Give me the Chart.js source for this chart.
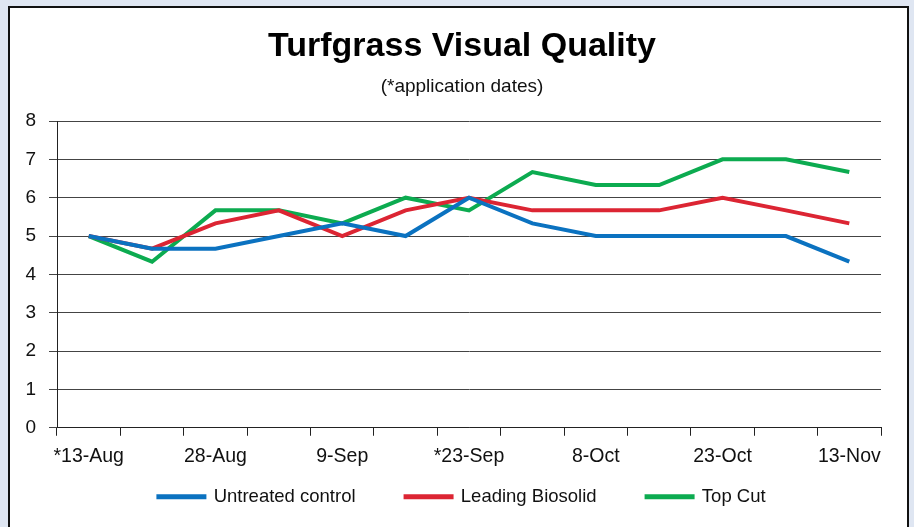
<!DOCTYPE html>
<html>
<head>
<meta charset="utf-8">
<script src="https://cdn.jsdelivr.net/npm/chart.js@4.4.1/dist/chart.umd.min.js"></script>
<style>
  html, body { margin: 0; padding: 0; }
  body { width: 914px; height: 527px; background: #dfe6f2; overflow: hidden; position: relative; }
  #panel { position: absolute; left: 8px; top: 6px; width: 897px; height: 540px; border: 2px solid #111; background: #fff; }
  #wrap { position: absolute; left: 0; top: 0; width: 914px; height: 516px; }
</style>
</head>
<body>
<div id="panel"></div>
<div id="wrap"><canvas id="chart" width="914" height="516"></canvas></div>
<script>
const dates = ['*13-Aug', '', '28-Aug', '', '9-Sep', '', '*23-Sep', '', '8-Oct', '', '23-Oct', '', '13-Nov'];
const untreated = [5, 4.67, 4.67, 5, 5.33, 5, 6, 5.33, 5, 5, 5, 5, 4.33];
const biosolid = [5, 4.67, 5.33, 5.67, 5, 5.67, 6, 5.67, 5.67, 5.67, 6, 5.67, 5.33];
const topCut = [5, 4.33, 5.67, 5.67, 5.33, 6, 5.67, 6.67, 6.33, 6.33, 7, 7, 6.67];

const font = "'Liberation Sans', Arial, sans-serif";

function series(label, data, color) {
  return {
    label: label,
    data: data,
    borderColor: color,
    backgroundColor: color,
    borderWidth: 4,
    pointRadius: 0,
    tension: 0,
    fill: false
  };
}

// let the axis labels draw outside their (shrunk) scale boxes
const unclipLabels = {
  id: 'unclipLabels',
  afterLayout(chart) {
    chart.scales.y.left = 0;
    chart.scales.x.bottom = chart.height;
  }
};

new Chart(document.getElementById('chart'), {
  type: 'line',
  data: {
    labels: dates,
    datasets: [
      series('Untreated control', untreated, '#0b72c0'),
      series('Leading Biosolid', biosolid, '#dc2533'),
      series('Top Cut', topCut, '#0cab50')
    ]
  },
  plugins: [unclipLabels],
  options: {
    responsive: false,
    animation: false,
    layout: { padding: { left: 43, right: 33, top: 0, bottom: 0 } },
    plugins: {
      title: {
        display: true,
        text: 'Turfgrass Visual Quality',
        color: '#000',
        font: { family: font, size: 34, weight: 'bold' },
        padding: { top: 26, bottom: 0 }
      },
      subtitle: {
        display: true,
        text: '(*application dates)',
        color: '#111',
        font: { family: font, size: 19 },
        padding: { top: 9, bottom: 22.4 }
      },
      legend: {
        position: 'bottom',
        labels: {
          boxWidth: 46,
          boxHeight: 1,
          padding: 50,
          color: '#111',
          font: { family: font, size: 18.5 }
        }
      },
      tooltip: { enabled: false }
    },
    scales: {
      x: {
        offset: true,
        afterFit: (scale) => { scale.height = 9.75; },
        grid: { offset: true, drawOnChartArea: false, color: '#222', tickLength: 8 },
        border: { color: '#222', width: 1 },
        ticks: {
          autoSkip: false,
          maxRotation: 0,
          padding: 9,
          color: '#111',
          font: { family: font, size: 19.5 }
        }
      },
      y: {
        min: 0,
        max: 8,
        afterFit: (scale) => { scale.width = 14; },
        grid: { color: '#444', tickLength: 8 },
        border: { color: '#222', width: 1 },
        ticks: {
          stepSize: 1,
          padding: 13,
          color: '#111',
          font: { family: font, size: 19 }
        }
      }
    }
  }
});
</script>
</body>
</html>
